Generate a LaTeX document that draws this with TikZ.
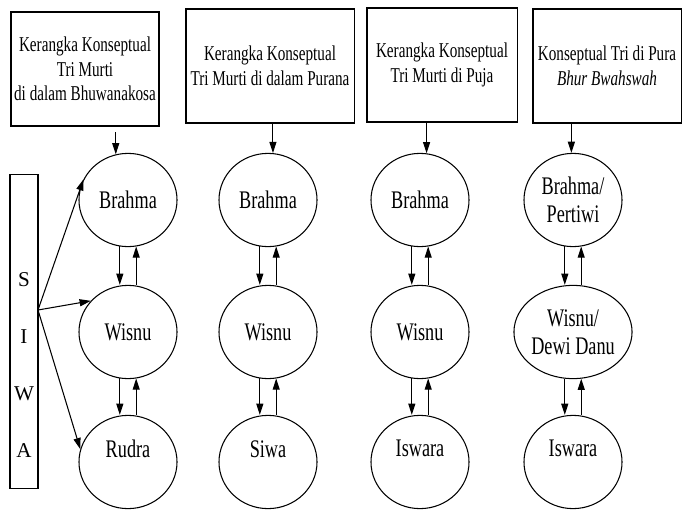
\documentclass[tikz,border=0pt]{standalone}
\usepackage{fontspec}
\setmainfont{Liberation Serif}
\usepackage{graphicx}
\usetikzlibrary{shapes.geometric,arrows.meta}
\newcommand{\sqz}[1]{\scalebox{0.72}[1]{#1}}

\begin{document}
\begin{tikzpicture}[x=0.025cm,y=-0.025cm]
			\tikzstyle{every path}=[line width=0.75pt]
			\tikzstyle{kotak}=[draw, minimum height=2.85cm, align=center, inner sep=0pt, font=\fontsize{15}{17.5}\selectfont]
			\tikzstyle{dewa}=[draw, ellipse, minimum width=2.45cm, minimum height=2.33cm, align=center, inner sep=0pt, font=\fontsize{18}{20}\selectfont]
			\tikzstyle{bawah}=[text depth=19pt]
			\tikzstyle{panah}=[-{Triangle[length=8pt,width=5pt]}]
			\useasboundingbox (0,0) rectangle (682,513);
			% kotak konsep
			\node [kotak, minimum width=3.7cm] (k1) at (85,69) {\sqz{Kerangka Konseptual}\\\sqz{Tri Murti}\\\sqz{di dalam Bhuwanakosa}};
			\node [kotak, minimum width=4.2cm] (k2) at (270,66) {\sqz{Kerangka Konseptual}\\\sqz{Tri Murti di dalam Purana}};
			\node [kotak, minimum width=3.75cm] (k3) at (442,65) {\sqz{Kerangka Konseptual}\\\sqz{Tri Murti di Puja}};
			\node [kotak, minimum width=3.7cm] (k4) at (607,66) {\sqz{Konseptual Tri di Pura}\\\sqz{\textit{Bhur Bwahswah}}};
			% siwa
			\node [draw, minimum width=0.7cm, minimum height=7.825cm, inner sep=0pt] (siwa) at (24,331.5) {};
			\node [align=center, font=\fontsize{15}{40.5}\selectfont] (siwahuruf) at (24,365) {S\\I\\W\\A};
			\coordinate (cabang) at (38,310);
			% kolom 1
			\node [dewa] (b1) at (128,200) {\sqz{Brahma}};
			\node [dewa] (w1) at (128,332) {\sqz{Wisnu}};
			\node [dewa, bawah] (r1) at (128,462) {\sqz{Rudra}};
			% kolom 2
			\node [dewa] (b2) at (268,200) {\sqz{Brahma}};
			\node [dewa] (w2) at (268,332) {\sqz{Wisnu}};
			\node [dewa, bawah] (r2) at (268,462) {\sqz{Siwa}};
			% kolom 3
			\node [dewa] (b3) at (420,200) {\sqz{Brahma}};
			\node [dewa] (w3) at (420,332) {\sqz{Wisnu}};
			\node [dewa, bawah] (r3) at (420,462) {\sqz{Iswara}};
			% kolom 4
			\node [dewa] (b4) at (573,200) {\sqz{Brahma/}\\\sqz{Pertiwi}};
			\node [dewa] (w4) at (573,332) {\sqz{Wisnu/}\\\sqz{Dewi Danu}};
			\node [dewa, bawah] (r4) at (573,462) {\sqz{Iswara}};
			% panah dari kotak
			\draw [panah, shorten <=4pt] (k1.south -| b1.105) -- (b1.105);
			\draw [panah] (k2.south -| b2.84) -- (b2.84);
			\draw [panah] (k3.south -| b3.82) -- (b3.82);
			\draw [panah] (k4.south -| b4.92) -- (b4.92);
			% panah dari siwa
			\draw [panah] (cabang) -- (b1.155);
			\draw [panah] (cabang) -- (w1.140);
			\draw [panah] (cabang) -- (r1.165);
			% panah bolak-balik
			\draw [panah] (b1.260) -- (b1.260 |- w1.north);
			\draw [panah] (b1.280 |- w1.north) -- (b1.280);
			\draw [panah] (w1.260) -- (w1.260 |- r1.north);
			\draw [panah] (w1.280 |- r1.north) -- (w1.280);
			\draw [panah] (b2.260) -- (b2.260 |- w2.north);
			\draw [panah] (b2.280 |- w2.north) -- (b2.280);
			\draw [panah] (w2.260) -- (w2.260 |- r2.north);
			\draw [panah] (w2.280 |- r2.north) -- (w2.280);
			\draw [panah] (b3.260) -- (b3.260 |- w3.north);
			\draw [panah] (b3.280 |- w3.north) -- (b3.280);
			\draw [panah] (w3.260) -- (w3.260 |- r3.north);
			\draw [panah] (w3.280 |- r3.north) -- (w3.280);
			\draw [panah] (b4.260) -- (b4.260 |- w4.north);
			\draw [panah] (b4.280 |- w4.north) -- (b4.280);
			\draw [panah] (w4.260) -- (w4.260 |- r4.north);
			\draw [panah] (w4.280 |- r4.north) -- (w4.280);
		\end{tikzpicture}
\end{document}
